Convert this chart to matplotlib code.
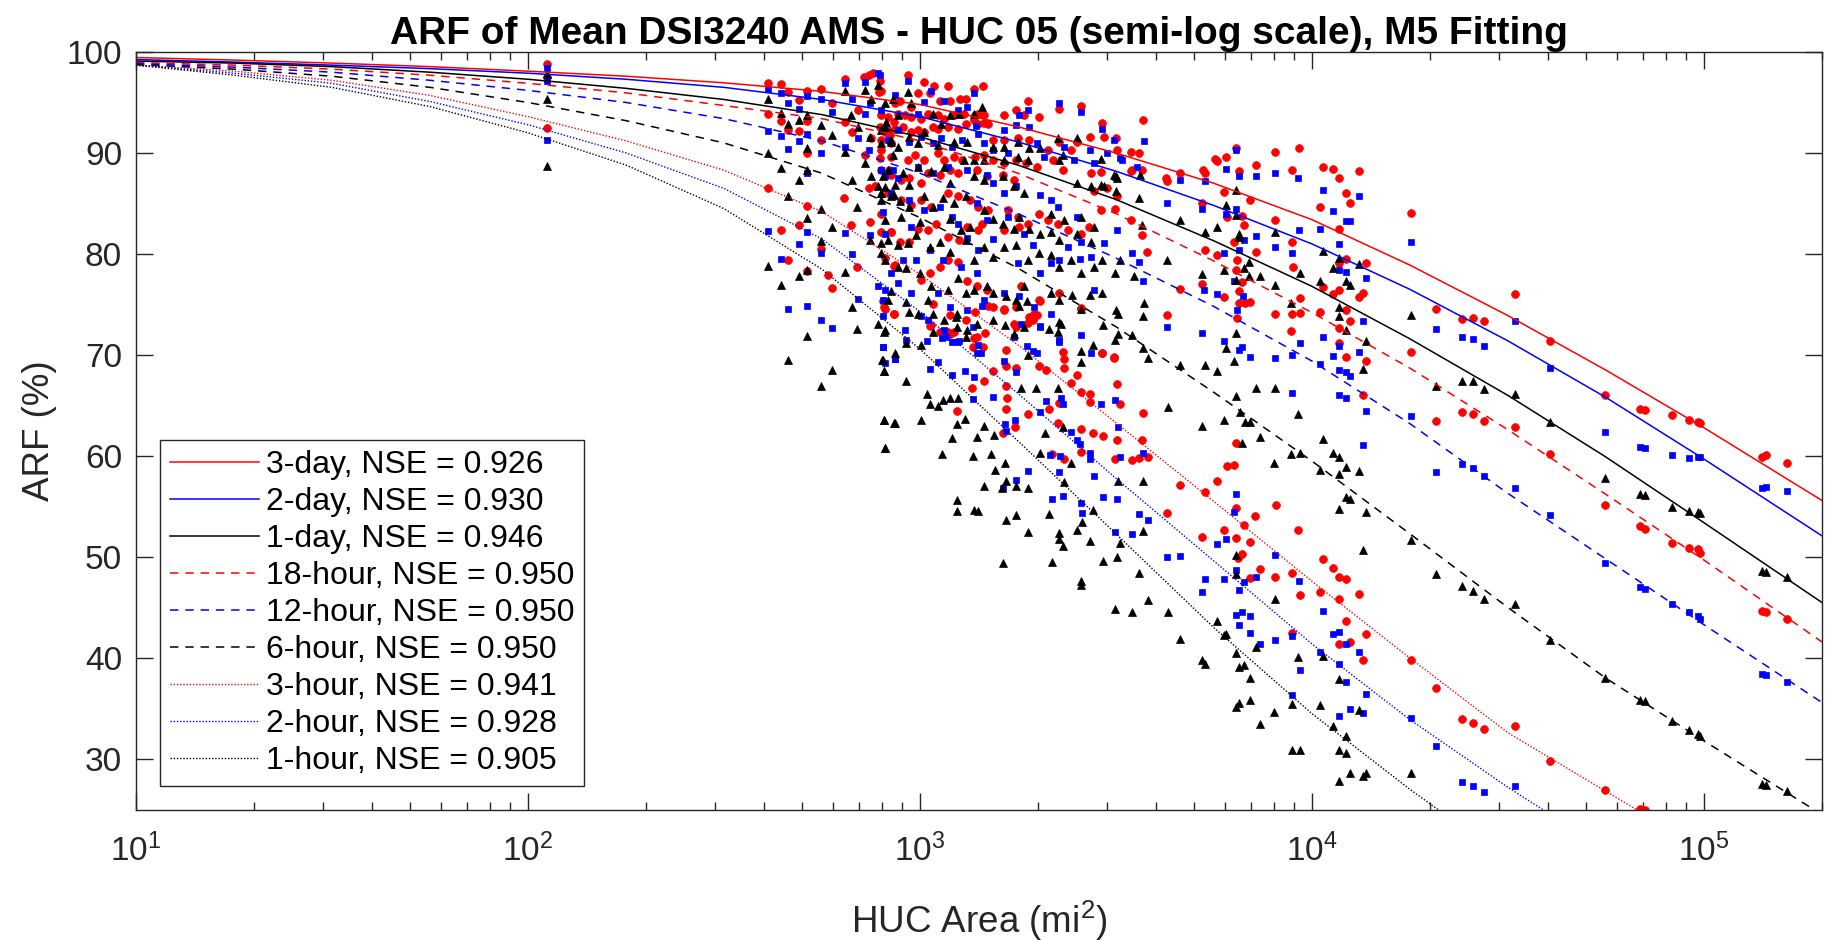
import numpy as np
import matplotlib
matplotlib.use("Agg")
from matplotlib import pyplot as plt

plt.rcParams['font.family'] = ['Liberation Sans', 'DejaVu Sans']
plt.rcParams['mathtext.fontset'] = 'custom'
plt.rcParams['mathtext.rm'] = 'Liberation Sans'

# ---- fitted (M5) curves at these areas (mi2) ----
curve_area = [10, 17.8, 31.6, 56.2, 100, 178, 316, 562, 1000, 1778, 3162,
              5623, 10000, 17783, 31623, 56234, 100000, 200000]
fit_3day = [99.45, 99.2, 98.9, 98.55, 98.1, 97.6, 96.95, 96.1, 94.8, 92.6, 90.0,
            87.0, 83.4, 78.9, 73.9, 68.5, 62.8, 55.6]
fit_2day = [99.25, 99.0, 98.7, 98.35, 97.9, 97.3, 96.5, 95.3, 93.6, 91.1, 88.2,
            84.8, 81.0, 76.5, 71.4, 65.8, 59.7, 52.1]
fit_1day = [99.1, 98.9, 98.55, 98.0, 97.3, 96.4, 95.3, 93.8, 91.6, 88.8, 85.4,
            81.3, 76.8, 71.6, 66.0, 59.9, 53.4, 45.5]
fit_18hr = [98.95, 98.7, 98.3, 97.7, 96.9, 95.95, 94.7, 93.4, 91.2, 88.0, 84.0,
            79.3, 74.2, 68.7, 62.6, 56.2, 49.7, 41.6]
fit_12hr = [98.85, 98.5, 98.0, 97.2, 96.2, 95.0, 93.4, 91.2, 88.0, 84.0, 79.6,
            74.8, 69.4, 63.2, 56.3, 49.8, 43.3, 35.6]
fit_6hr = [98.75, 98.3, 97.6, 96.5, 95.0, 93.2, 91.0, 88.0, 83.6, 78.6, 72.8,
           66.3, 59.5, 52.3, 45.0, 38.0, 31.8, 24.5]
fit_3hr = [98.7, 98.1, 97.2, 95.7, 93.6, 91.2, 88.3, 84.2, 78.0, 71.0, 63.3,
           55.5, 47.6, 40.0, 32.6, 26.8, 21.0, 14.5]
fit_2hr = [98.7, 97.9, 96.9, 95.1, 92.8, 90.0, 86.5, 81.5, 74.3, 66.2, 57.8,
           49.6, 41.4, 33.9, 27.2, 21.0, 15.0, 8.0]
fit_1hr = [98.7, 97.7, 96.5, 94.6, 92.0, 88.8, 84.5, 78.5, 70.6, 61.5, 52.3,
           43.0, 34.5, 27.0, 20.0, 13.5, 7.0, 0.0]

labels = ["3-day, NSE = 0.926", "2-day, NSE = 0.930", "1-day, NSE = 0.946",
          "18-hour, NSE = 0.950", "12-hour, NSE = 0.950", "6-hour, NSE = 0.950",
          "3-hour, NSE = 0.941", "2-hour, NSE = 0.928", "1-hour, NSE = 0.905"]

# ---- observed ARF of the HUCs as (area mi2, ARF %) ----
# red circles: 3-day, 18-hour, 3-hour
red_points = [
    (112, 98.8), (112, 97.5), (112, 92.5), (409, 96.9), (409, 93.9), (409, 86.5),
    (441, 96.8), (441, 93.2), (441, 82.4), (461, 96.0), (461, 92.3), (461, 79.4),
    (492, 95.2), (492, 92.2), (492, 82.9), (516, 96.1), (516, 93.2), (516, 84.8),
    (516, 90.0), (516, 78.3), (559, 96.3), (559, 91.3), (559, 80.5),
    (583, 77.9), (595, 94.9), (595, 76.6), (641, 85.5), (643, 97.3), (643, 93.1),
    (666, 82.9), (669, 92.1), (689, 78.7), (693, 94.3), (720, 97.5), (723, 89.8),
    (740, 97.7), (740, 86.5), (745, 83.2), (752, 91.5), (759, 97.9), (767, 86.7),
    (790, 97.1), (790, 89.5), (797, 96.1), (797, 91.3), (797, 82.2), (797, 84.0),
    (805, 75.3), (813, 92.1), (813, 79.6), (813, 74.6), (832, 88.3), (837, 91.8),
    (845, 91.0), (845, 82.2), (859, 93.1), (859, 78.8), (859, 74.1), (862, 94.9),
    (931, 97.7), (1027, 97.0), (1084, 96.6), (1177, 96.6), (1377, 96.3), (1445, 96.6),
    (787, 96.0), (988, 95.9), (1058, 95.9), (887, 95.1), (950, 94.6), (1122, 95.1),
    (1190, 95.1), (1263, 95.3), (1311, 95.3), (1383, 93.8), (1460, 93.0), (1882, 95.1),
    (1758, 94.3), (1642, 93.8), (1845, 93.8), (2011, 93.6), (2258, 94.4), (2573, 94.7),
    (2906, 93.0), (3708, 93.3), (3158, 91.5), (2947, 91.6), (2716, 91.6), (2523, 91.1),
    (2267, 91.1), (2426, 90.3), (2117, 90.3), (1898, 91.3), (1776, 91.5), (1642, 91.3),
    (1533, 91.3), (3447, 90.1), (3190, 90.3), (3621, 90.0), (3687, 88.3), (3483, 88.3),
    (4274, 87.2), (4604, 88.0),
    (790, 92.6), (829, 92.3), (862, 92.4), (905, 92.6), (950, 92.1), (988, 92.3),
    (1027, 92.1), (1079, 92.6), (1110, 92.4), (1177, 92.6), (1249, 92.4), (1312, 92.9),
    (1377, 93.3), (1404, 92.9), (1489, 92.9), (797, 93.8), (829, 93.6), (879, 93.9),
    (914, 93.8), (950, 93.6), (1007, 93.4), (1047, 93.9), (1110, 93.8), (1155, 93.4),
    (1225, 93.8), (1292, 93.9), (1404, 93.9), (1460, 93.8),
    (797, 90.3), (845, 89.6), (931, 89.3), (969, 89.8), (1027, 89.3), (1110, 90.0),
    (1155, 89.3), (1225, 89.6), (1280, 89.3), (1383, 89.6), (1460, 89.8), (1533, 89.3),
    (1642, 89.0), (1758, 89.3), (1862, 89.0), (1992, 88.6), (2179, 89.3), (2311, 88.3),
    (2727, 88.0), (2782, 86.2), (3005, 86.5), (3190, 85.7), (3141, 84.5), (3447, 83.4),
    (3687, 81.9), (3795, 80.2),
    (797, 88.3), (845, 87.8), (896, 87.3), (940, 87.5), (1007, 87.0), (1047, 88.0),
    (1122, 87.8), (1190, 88.3), (1249, 88.0), (1396, 88.3), (1479, 87.7), (1626, 87.8),
    (1741, 87.3),
    (829, 86.0), (896, 85.3), (950, 84.9), (1007, 85.3), (1068, 84.7), (1177, 86.0),
    (1249, 85.7), (1343, 85.3), (1404, 84.7), (1489, 84.4), (1674, 84.4), (1776, 83.7),
    (1882, 83.0), (2011, 84.0),
    (845, 82.2), (887, 81.2), (940, 81.2), (988, 82.5), (1047, 82.4), (1100, 83.0),
    (1177, 81.7), (1257, 81.4), (1317, 82.7), (1404, 82.4), (1437, 83.0), (1643, 82.4),
    (1792, 82.7), (2117, 83.4), (2245, 83.0), (2380, 82.4), (2573, 82.0), (2701, 82.7),
    (862, 78.9), (1007, 77.4), (1058, 78.1), (1122, 78.7), (1177, 79.4), (1249, 79.2),
    (1317, 77.3), (1396, 76.8), (1479, 76.4), (1533, 74.8), (1642, 74.6), (1758, 74.8),
    (1810, 76.8), (1898, 73.8), (1954, 74.1), (2011, 75.4), (2267, 76.1), (2573, 74.6),
    (2918, 70.2), (3127, 69.8), (1068, 73.0), (1190, 72.1), (1377, 71.7), (1445, 70.8),
    (1741, 73.1),
    (810, 74.8), (859, 74.1), (1079, 75.0), (1063, 72.9), (1122, 72.3), (1182, 72.3),
    (1225, 72.3), (1190, 74.0), (1312, 73.5), (1383, 74.3), (1493, 74.9), (1642, 74.5),
    (1758, 72.8), (1882, 73.2), (1938, 73.5), (1988, 74.0), (2023, 75.3), (2583, 74.7),
    (1396, 71.8), (1364, 70.8), (1465, 72.2), (1533, 68.4), (1456, 67.4), (1361, 66.7),
    (1240, 64.5), (1660, 70.5), (1660, 68.9), (1758, 68.7), (1660, 66.9), (1666, 65.7),
    (1660, 64.7), (1752, 62.9), (1626, 62.3), (1882, 64.2), (2011, 68.9), (2096, 68.5),
    (2137, 64.7), (2267, 65.2), (2311, 70.3), (2325, 69.6), (2333, 68.7), (2426, 67.2),
    (2509, 68.0), (2573, 66.3), (2712, 66.1), (2712, 65.3), (2906, 70.2), (3127, 69.7),
    (3190, 67.1), (3233, 65.1), (3707, 64.3), (2245, 63.3), (2583, 62.7), (2769, 62.3),
    (2932, 62.0), (3190, 61.6), (3687, 61.6), (3483, 59.6), (3621, 59.8), (3817, 59.9),
    (3141, 59.7), (2583, 60.4), (2325, 59.7), (2167, 60.2), (4604, 57.1), (5352, 56.4),
    (4274, 54.4), (5248, 52.0), (4604, 76.5), (4274, 74.0),
    (2900, 84.4), (2900, 88.1), (3460, 88.2), (4240, 87.5), (5270, 88.3), (5670, 89.4),
    (5352, 88.0), (5248, 85.0), (5352, 80.4), (5248, 77.0),
    (6053, 89.6), (5731, 89.2), (5959, 86.1), (6077, 83.7), (5731, 79.9), (5959, 75.7),
    (6077, 59.0), (5731, 57.5), (5959, 52.7),
    (6405, 90.5), (6506, 88.2), (6633, 83.8), (6699, 82.9), (6343, 81.2), (6442, 79.4),
    (6405, 78.4), (6633, 77.2), (6506, 76.3), (6506, 75.1), (6764, 75.1), (6442, 73.7),
    (6417, 61.3), (6343, 59.1), (6417, 54.9), (6699, 53.2), (6417, 51.9), (6633, 50.3),
    (6480, 49.9),
    (6966, 85.3), (7200, 88.8), (7200, 80.2), (6938, 75.2), (6938, 51.5), (7356, 48.8),
    (7172, 54.1), (6966, 47.9),
    (8064, 90.1), (8064, 83.4), (8064, 74.1), (8077, 55.1), (8033, 48.0),
    (9248, 90.5), (8892, 88.3), (8892, 81.2), (8960, 78.7), (9302, 75.6), (8892, 74.1),
    (8858, 72.4), (9302, 74.2), (9212, 52.7), (8892, 48.4), (9302, 46.2), (8892, 42.5),
    (10500, 84.7), (10500, 74.3), (10500, 46.5), (10670, 88.6), (10670, 76.7), (10670, 49.8),
    (11300, 88.4), (11300, 76.0), (11300, 48.9), (11700, 87.5), (11700, 76.4), (11700, 48.0),
    (11700, 82.5), (11700, 72.7), (11700, 45.8), (11700, 79.1), (11700, 71.2), (11700, 41.4),
    (12200, 86.0), (12200, 74.5), (12200, 47.8), (12200, 79.5), (12200, 69.8), (12200, 43.7),
    (12540, 85.0), (12540, 73.4), (12540, 41.6), (13210, 88.2), (13210, 75.7), (13210, 46.3),
    (13500, 76.1), (13500, 66.0), (13500, 39.8), (13770, 79.1), (13770, 69.4), (13770, 42.4),
    (17900, 84.1), (17900, 70.3), (17900, 39.8), (20720, 74.6), (20720, 63.5), (20720, 37.0),
    (24170, 73.6), (24170, 64.4), (24170, 34.0), (25740, 73.7), (25740, 64.2), (25740, 33.6),
    (27500, 73.4), (27500, 63.5), (27500, 33.0), (32900, 76.0), (32900, 62.9), (32900, 33.3),
    (40470, 71.4), (40470, 60.2), (40470, 29.8), (55850, 66.0), (55850, 55.1), (55850, 26.9),
    (68700, 64.7), (68700, 53.1), (68700, 25.1), (70770, 64.6), (70770, 52.8), (70770, 25.0),
    (83000, 64.1), (83000, 51.4), (91400, 63.6), (91400, 50.9), (96400, 63.4), (96400, 50.8),
    (97700, 63.3), (97700, 50.4), (141000, 59.9), (141000, 44.7), (143800, 60.1),
    (143800, 44.6), (162700, 59.3), (162700, 43.9),
]

# blue squares: 2-day, 12-hour, 2-hour
blue_points = [
    (112, 98.4), (112, 97.1), (112, 91.3), (409, 96.3), (409, 92.2), (409, 82.3),
    (441, 95.9), (441, 91.7), (441, 79.5), (461, 94.9), (461, 90.4), (461, 74.6),
    (492, 94.4), (492, 91.2), (492, 81.0), (516, 95.6), (516, 91.9), (516, 82.2),
    (516, 88.0), (516, 74.9), (559, 95.3), (559, 90.0), (559, 80.1), (559, 73.5),
    (595, 94.1), (597, 72.7), (643, 96.9), (643, 90.6), (643, 82.1), (669, 95.3),
    (669, 80.0), (693, 91.5), (693, 75.5), (723, 97.0), (723, 93.9), (745, 94.9),
    (745, 81.9), (740, 90.3), (782, 97.9), (782, 76.8), (797, 88.3), (805, 84.2),
    (805, 75.4), (805, 70.8), (813, 87.7), (813, 76.4), (854, 88.3), (862, 69.6),
    (813, 69.2),
    (790, 97.7), (931, 97.1), (1068, 96.1), (862, 95.7), (1027, 95.0), (797, 94.3),
    (988, 93.9), (1155, 95.1), (1317, 94.6), (1377, 95.9), (1249, 94.3), (1390, 92.7),
    (1410, 91.9), (1642, 92.3), (1758, 92.8), (1792, 93.8), (1882, 94.3), (1898, 92.6),
    (2267, 94.9), (2573, 94.1), (2712, 90.3), (2918, 92.4), (3127, 91.3), (3230, 89.5),
    (3728, 91.2), (4274, 85.0), (4604, 87.3),
    (879, 92.3), (829, 91.3), (940, 91.1), (1007, 91.6), (1079, 91.0), (1132, 91.5),
    (1210, 90.6), (1280, 91.3), (1460, 91.0), (1533, 90.3), (1674, 90.0), (1992, 91.0),
    (2076, 89.6), (2333, 90.6), (2475, 89.3), (2782, 89.0), (3005, 90.0), (3271, 89.3),
    (3583, 88.6),
    (797, 88.3), (879, 87.5), (988, 88.6), (1079, 88.0), (1177, 88.6), (1317, 88.3),
    (1479, 87.8), (1537, 87.0), (1643, 86.0), (1758, 86.7), (2019, 85.8), (2160, 85.3),
    (2245, 84.7), (2513, 83.7), (2583, 81.2), (3483, 80.1), (3621, 79.2), (3707, 77.3),
    (2782, 76.4), (1537, 81.5), (1410, 80.4), (1317, 81.6), (1249, 83.0), (1204, 83.7),
    (1058, 80.4), (978, 79.4), (905, 79.4), (879, 77.1), (1047, 73.5), (1166, 71.8),
    (1396, 70.2), (2019, 72.8), (2160, 79.1),
    (845, 86.0), (940, 85.3), (1027, 84.4), (1122, 84.7), (1396, 85.0), (1479, 83.4),
    (1676, 83.7), (1845, 82.0), (1938, 80.9), (2380, 80.7), (2727, 79.7), (2947, 81.1),
    (3190, 82.4), (813, 82.0), (950, 82.7), (1143, 79.4), (1270, 78.7), (1396, 78.1),
    (1776, 79.1), (2030, 78.1), (2267, 79.4), (2563, 79.5), (845, 78.1), (950, 76.1),
    (1110, 76.1), (1196, 74.8), (1317, 74.5), (1460, 75.4), (1642, 76.1), (1792, 75.8),
    (1954, 74.8), (2160, 74.1), (2267, 71.3), (2573, 72.0), (2727, 70.2), (1741, 71.8),
    (1245, 71.3), (1369, 72.8), (914, 72.5),
    (805, 73.9), (1007, 73.9), (1155, 72.5), (1139, 71.7), (1257, 71.4), (1210, 71.3),
    (1437, 74.9), (1810, 73.1), (2019, 72.9), (805, 70.8), (862, 69.6), (922, 71.5),
    (1042, 71.4), (1063, 68.6), (1110, 69.3), (1210, 68.0), (1300, 68.4), (1377, 67.8),
    (1363, 65.6), (1404, 71.0), (1432, 70.2), (1537, 65.8), (1642, 69.4), (1652, 63.2),
    (1660, 62.5), (1758, 68.3), (1752, 63.6), (1873, 70.9), (1946, 70.4), (1988, 70.2),
    (1882, 58.5), (1758, 57.6), (1626, 56.8), (2019, 64.4), (2096, 65.4), (2267, 71.5),
    (2289, 65.7), (2311, 65.1), (2145, 60.1), (2280, 60.0), (2267, 58.4), (2426, 62.4),
    (2509, 61.6), (2563, 61.2), (2712, 60.3), (2712, 59.7), (2782, 58.0), (2932, 55.9),
    (3190, 55.7), (2901, 65.1), (3141, 65.5), (3202, 62.9), (3233, 59.9), (3707, 60.3),
    (2320, 56.0), (2170, 55.7), (2583, 55.3), (2588, 54.4), (3141, 52.5), (3483, 52.3),
    (3617, 54.3), (3817, 53.7), (4274, 50.0), (4604, 50.1), (4274, 72.8),
    (5352, 87.2), (5248, 84.5), (5300, 76.4), (5248, 72.2), (5352, 47.8), (5248, 46.5),
    (6053, 88.4), (6053, 84.0), (5959, 80.1), (5959, 71.4), (6053, 51.8), (5731, 51.3),
    (5959, 47.8), (5731, 76.0),
    (6405, 90.3), (6506, 87.7), (6405, 84.5), (6699, 81.4), (6506, 80.4), (6343, 77.3),
    (6673, 75.8), (6442, 74.5), (6633, 70.8), (6506, 70.5), (6417, 56.2), (6343, 54.5),
    (6417, 48.7), (6725, 47.5), (6506, 46.7), (6400, 44.3), (6633, 44.6), (6506, 43.3),
    (7200, 87.7), (7200, 81.8), (6938, 69.8), (7200, 48.0), (6938, 44.2), (7356, 41.4),
    (6938, 42.5),
    (8064, 88.0), (8064, 80.7), (8033, 69.7), (8064, 50.2), (8033, 41.8),
    (9212, 87.5), (9248, 82.4), (8892, 80.1), (9302, 71.2), (8892, 70.0), (8892, 66.2),
    (9248, 47.6), (8892, 42.2), (9302, 38.8), (8892, 36.3),
    (10500, 82.5), (10500, 69.1), (10500, 40.6), (10670, 86.3), (10670, 71.8), (10670, 44.7),
    (11300, 84.3), (11300, 69.9), (11300, 42.4), (11700, 81.0), (11700, 70.9), (11700, 42.6),
    (11700, 78.4), (11700, 68.5), (11700, 39.4), (11700, 66.0), (11700, 34.3),
    (12200, 83.3), (12200, 68.3), (12200, 41.4), (12200, 78.2), (12200, 65.7), (12200, 37.6),
    (12540, 83.3), (12540, 67.9), (12540, 35.0), (13210, 85.7), (13210, 70.3), (13210, 40.6),
    (13500, 73.4), (13500, 61.1), (13500, 34.6), (13770, 77.6), (13770, 64.5), (13770, 36.4),
    (17900, 81.2), (17900, 64.0), (17900, 34.1), (20720, 72.6), (20720, 58.4), (20720, 31.3),
    (24170, 71.8), (24170, 59.2), (24170, 27.7), (25740, 71.6), (25740, 58.8), (25740, 27.3),
    (27500, 70.9), (27500, 58.0), (27500, 26.7), (32900, 73.4), (32900, 56.8), (32900, 27.3),
    (40470, 68.7), (40470, 54.2), (55850, 62.4), (55850, 49.4), (68700, 60.9), (68700, 47.0),
    (70770, 60.8), (70770, 46.8), (83000, 60.1), (83000, 45.3), (91400, 59.8), (91400, 44.6),
    (96400, 59.9), (96400, 44.2), (97700, 59.9), (97700, 43.9), (141000, 56.8),
    (141000, 38.4), (143800, 56.9), (143800, 38.3), (162700, 56.5), (162700, 37.6),
]

# black triangles: 1-day, 6-hour, 1-hour
black_points = [
    (112, 97.8), (112, 95.3), (112, 88.7), (409, 95.3), (409, 90.0), (409, 78.8),
    (441, 94.0), (441, 88.5), (441, 76.9), (461, 92.9), (461, 85.7), (461, 69.5),
    (492, 93.3), (492, 87.3), (492, 77.8), (516, 93.8), (516, 88.3), (516, 78.4),
    (516, 90.5), (516, 83.6), (516, 71.9), (559, 92.8), (559, 84.5), (559, 81.3),
    (559, 66.9),
    (595, 91.8), (595, 82.7), (597, 68.5), (643, 96.1), (643, 90.1), (643, 78.2),
    (666, 93.8), (669, 87.3), (669, 74.8), (689, 84.7), (689, 72.6), (693, 92.6),
    (723, 96.2), (723, 89.0), (745, 91.6), (745, 81.4), (752, 95.3), (752, 87.7),
    (782, 96.7), (782, 86.7), (782, 73.1), (797, 92.3), (797, 86.0), (797, 85.3),
    (797, 81.1), (797, 80.1), (802, 69.5), (810, 68.4), (810, 63.6), (813, 94.9),
    (813, 92.6), (813, 86.6), (813, 79.4), (813, 72.5), (815, 60.8), (845, 91.3),
    (854, 89.8), (859, 85.8), (862, 63.3), (845, 76.3),
    (853, 95.3), (931, 96.0), (950, 94.9), (879, 93.8), (821, 93.1), (1079, 93.9),
    (1132, 92.9), (1190, 93.8), (1257, 93.9), (1377, 93.9), (1437, 94.6), (1027, 92.1),
    (940, 91.6), (845, 91.1), (797, 91.0), (879, 90.6), (988, 91.0), (1110, 90.8),
    (1225, 91.1), (1317, 91.1), (1377, 89.3), (1460, 89.3), (1537, 90.6), (1642, 90.6),
    (1776, 91.1), (1898, 90.5), (2023, 90.5), (2245, 91.5), (2311, 89.8), (2523, 91.5),
    (1882, 89.3), (1776, 89.6), (1642, 89.3), (1292, 89.3), (1155, 88.6), (1068, 88.2),
    (988, 88.6), (905, 88.0), (829, 88.3), (805, 87.7), (862, 86.8), (940, 86.8),
    (1196, 87.0), (1377, 87.7), (1460, 87.3), (1626, 87.7), (1741, 86.7), (1845, 86.0),
    (2267, 89.3), (2523, 87.0), (2727, 86.7), (2947, 86.7), (3158, 87.7), (3190, 87.5),
    (3621, 85.5), (3687, 82.9), (2900, 89.4), (3135, 87.8), (2900, 86.8), (3170, 86.2),
    (3650, 87.8),
    (797, 86.0), (845, 85.7), (887, 85.2), (940, 84.7), (1027, 85.7), (1079, 84.7),
    (1143, 85.5), (1225, 85.0), (1312, 85.7), (1460, 84.4), (1533, 83.5), (1792, 83.7),
    (2160, 84.0), (2333, 83.4), (2573, 83.7), (2782, 82.7),
    (813, 83.4), (896, 83.7), (1000, 83.2), (1190, 83.5), (1270, 82.4), (1343, 82.7),
    (1626, 83.0), (1741, 82.5), (1898, 82.5), (2030, 82.0), (2160, 82.2), (2267, 81.4),
    (2523, 82.0), (2727, 81.2),
    (829, 81.4), (879, 80.9), (931, 81.1), (978, 81.9), (1058, 80.7), (1122, 81.2),
    (1190, 80.2), (1312, 81.4), (1377, 79.4), (1460, 80.7), (1533, 79.7), (1642, 80.7),
    (1758, 80.9), (1882, 79.4), (2011, 80.1), (2160, 79.9), (2267, 78.7), (2426, 79.4),
    (2573, 78.1), (2782, 78.7), (2918, 79.4), (3141, 78.1), (3230, 79.4), (3515, 77.8),
    (879, 78.7), (922, 78.6), (1000, 78.1), (1068, 76.8), (1177, 76.4), (1249, 77.6),
    (1312, 76.1), (1377, 76.4), (1479, 76.8), (1537, 76.1), (1660, 75.8), (1758, 75.4),
    (1845, 76.8), (2160, 76.1), (2267, 75.4), (2440, 75.9), (2712, 75.9), (2918, 76.1),
    (3158, 74.5), (3728, 75.1),
    (829, 75.4), (988, 74.1), (1047, 75.4), (1079, 74.1), (1155, 73.5), (1236, 73.8),
    (1317, 72.5), (1396, 73.1), (1537, 73.5), (1741, 72.1), (1845, 72.8), (2289, 73.1),
    (922, 75.2), (940, 74.3), (1079, 72.3), (1240, 74.1), (1245, 72.8), (1311, 71.8),
    (1652, 73.0), (1792, 74.9), (1873, 75.3), (2137, 72.6), (2267, 73.3), (2245, 72.3),
    (2573, 74.6), (3202, 74.1), (3707, 73.9),
    (810, 72.3), (865, 70.2), (919, 71.2), (1004, 71.0), (805, 69.5), (810, 68.4),
    (1042, 66.1), (1063, 65.1), (1110, 65.0), (1143, 65.5), (1195, 65.7), (1250, 65.7),
    (922, 67.4), (810, 63.6), (859, 63.3), (1004, 63.6), (813, 60.8), (1139, 60.2),
    (1204, 61.8), (1240, 63.2), (1300, 63.7), (1364, 60.0), (1396, 61.9), (1459, 63.0),
    (1516, 60.2), (1546, 62.1), (1652, 59.3), (1882, 70.0), (1810, 66.7), (1972, 66.7),
    (2245, 66.7), (2311, 62.9), (2088, 62.3), (2019, 60.3), (2426, 59.3), (2583, 69.3),
    (2583, 70.4), (2769, 71.0), (2935, 73.0), (3202, 72.1), (3141, 71.5), (3483, 72.0),
    (3707, 70.7), (3817, 69.7), (4283, 64.9), (4604, 69.0),
    (1245, 55.6), (1240, 54.6), (1377, 54.7), (1410, 54.6), (1459, 57.0), (1552, 58.6),
    (1621, 56.8), (1660, 57.5), (1758, 57.0), (1660, 53.7), (1758, 54.2), (1882, 56.8),
    (1891, 52.5), (2137, 54.3), (2267, 52.4), (2267, 51.8), (2320, 51.1), (2509, 52.7),
    (2593, 53.5), (2769, 54.7), (2712, 51.6), (3233, 51.4), (2333, 57.4), (3202, 57.5),
    (3707, 57.5), (3707, 52.6),
    (1626, 49.4), (2167, 49.5), (2932, 49.6), (3190, 50.0), (2583, 47.6), (2583, 47.2),
    (3624, 48.4), (3146, 44.9), (3483, 44.6), (3817, 45.7), (4283, 44.6), (4604, 41.9),
    (4604, 83.4), (4274, 79.4),
    (5352, 82.2), (5248, 78.0), (5352, 69.0), (5248, 63.0), (5248, 39.8), (5352, 39.4),
    (6053, 84.9), (5731, 82.7), (5959, 78.4), (6053, 70.7), (5731, 68.4), (5959, 63.6),
    (5731, 43.7), (5959, 42.3), (6053, 42.4),
    (6405, 86.3), (6405, 83.9), (6506, 82.0), (6506, 81.7), (6699, 78.6), (6417, 77.4),
    (6405, 72.2), (6343, 69.4), (6405, 65.9), (6554, 64.4), (6764, 63.4), (6633, 61.3),
    (6405, 50.2), (6417, 48.3), (6405, 40.5), (6506, 39.1), (6699, 39.3), (6417, 35.2),
    (6506, 35.5),
    (6925, 79.2), (6898, 77.8), (7356, 77.8), (6938, 63.4), (7356, 61.9), (7214, 66.7),
    (6938, 38.0), (6938, 35.8), (7356, 33.5), (7200, 41.1),
    (8064, 82.2), (8064, 76.9), (8064, 66.7), (7985, 59.3), (8064, 45.8), (7985, 34.7),
    (9302, 78.1), (8858, 75.1), (9212, 64.2), (8858, 60.2), (9302, 60.3), (9212, 40.1),
    (8892, 35.4), (8892, 30.9), (9302, 30.9),
    (10500, 77.3), (10500, 58.6), (10500, 35.3), (10670, 80.3), (10670, 61.7), (10670, 40.2),
    (11300, 78.6), (11300, 60.3), (11300, 33.3), (11700, 79.6), (11700, 59.9), (11700, 37.9),
    (11700, 74.8), (11700, 58.2), (11700, 30.9), (11700, 73.9), (11700, 54.8), (11700, 27.8),
    (12200, 77.3), (12200, 58.9), (12200, 32.3), (12200, 72.5), (12200, 55.9), (12200, 30.6),
    (12540, 76.9), (12540, 55.7), (12540, 28.6), (13210, 79.0), (13210, 58.5), (13210, 34.9),
    (13500, 68.6), (13500, 50.7), (13500, 28.3), (13770, 71.4), (13770, 54.5), (13770, 28.6),
    (17900, 74.0), (17900, 51.7), (17900, 28.6), (20720, 66.9), (20720, 48.3),
    (24170, 67.4), (24170, 47.1), (25740, 67.4), (25740, 46.6), (27500, 66.6), (27500, 45.8),
    (32900, 66.1), (32900, 45.3), (40470, 63.4), (40470, 41.8), (55850, 57.8), (55850, 38.0),
    (68700, 56.2), (68700, 35.8), (70770, 56.1), (70770, 35.7), (83000, 55.0), (83000, 33.8),
    (91400, 54.6), (91400, 32.9), (96400, 54.5), (96400, 32.5), (97700, 54.4), (97700, 32.3),
    (141000, 48.6), (141000, 27.5), (143800, 48.5), (143800, 27.4), (162700, 48.0),
    (162700, 26.8),
]

red_area, red_arf = zip(*red_points)
blue_area, blue_arf = zip(*blue_points)
black_area, black_arf = zip(*black_points)

fig = plt.figure(figsize=(18.25, 9.40), dpi=100)
ax = fig.add_axes([0.0745, 0.1388, 0.9238, 0.8059])
axc = '#262626'

ax.plot(red_area, red_arf, linestyle='none', marker='o', ms=5.6, mfc='#ff0000',
        mec='#ff0000', mew=0.5)
ax.plot(blue_area, blue_arf, linestyle='none', marker='s', ms=3.9, mfc='#0000ff',
        mec='#0000ff', mew=0.5)
ax.plot(black_area, black_arf, linestyle='none', marker='^', ms=5.8, mfc='black',
        mec='black', mew=0.5)

fits = [fit_3day, fit_2day, fit_1day, fit_18hr, fit_12hr, fit_6hr, fit_3hr, fit_2hr, fit_1hr]
colors = ['#ff0000', '#0000ff', 'black'] * 3
dashed = (0, (5.5, 4.5))
dotted = (0, (1, 1.3))
styles = ['-'] * 3 + [dashed] * 3 + [dotted] * 3
widths = [1.1] * 3 + [1.1] * 3 + [1.0] * 3
for y, c, ls, lw, lab in zip(fits, colors, styles, widths, labels):
    ax.plot(curve_area, y, color=c, linestyle=ls, lw=lw, label=lab)

ax.set_xscale('log')
ax.set_xlim(10, 2e5)
ax.set_ylim(25, 100)
ax.set_yticks([30, 40, 50, 60, 70, 80, 90, 100])
ax.set_xticks([1e1, 1e2, 1e3, 1e4, 1e5])

ax.tick_params(which='both', direction='in', top=True, right=True, colors=axc,
               labelsize=24, width=1.0)
ax.tick_params(axis='x', which='major', length=12, pad=17)
ax.tick_params(axis='x', which='minor', length=6)
ax.tick_params(axis='y', which='major', length=12, pad=10)
ax.tick_params(axis='y', which='minor', left=False, right=False)
for s in ax.spines.values():
    s.set_color(axc)
    s.set_linewidth(1.0)

ax.set_title("ARF of Mean DSI3240 AMS - HUC 05 (semi-log scale), M5 Fitting",
             fontsize=28, fontweight='bold', pad=3)
ax.set_xlabel(r"HUC Area (mi$^{\mathdefault{2}}$)", fontsize=26.5, color=axc)
ax.xaxis.set_label_coords(0.5, -0.117)
ax.set_ylabel("ARF (%)", fontsize=26.5, color=axc)
ax.yaxis.set_label_coords(-0.047, 0.5)

leg = ax.legend(loc='lower left', fontsize=23, handlelength=2.8, handletextpad=0.22,
                borderpad=0.3, labelspacing=0.22, borderaxespad=0.75,
                fancybox=False, framealpha=1)
leg.get_frame().set_edgecolor(axc)
leg.get_frame().set_linewidth(1.0)

fig.savefig("out.png", dpi=100)
